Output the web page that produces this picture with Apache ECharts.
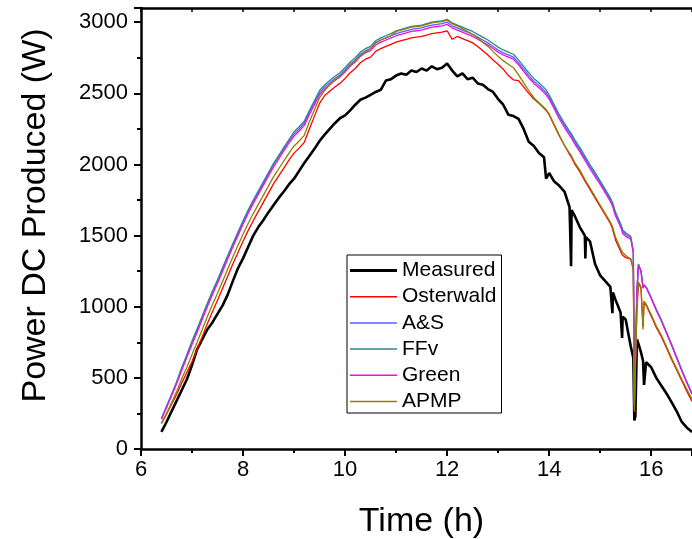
<!DOCTYPE html>
<html><head><meta charset="utf-8">
<script src="https://cdn.jsdelivr.net/npm/echarts@6/dist/echarts.min.js"></script>
<style>html,body{margin:0;padding:0;background:#fff}#c{width:692px;height:539px}</style>
</head><body><div id="c"></div>
<script>
const times = [
6.4,6.5,6.6,6.7,6.8,6.9,
7.0,7.1,7.2,7.3,7.4,7.5,7.6,7.7,7.8,7.9,
8.0,8.1,8.2,8.3,8.4,8.5,8.6,8.7,8.8,8.9,
9.0,9.1,9.2,9.3,9.4,9.5,9.6,9.7,9.8,9.9,
10.0,10.1,10.2,10.3,10.4,10.5,10.6,10.7,10.8,10.9,
11.0,11.1,11.2,11.3,11.4,11.5,11.6,11.7,11.8,11.9,
12.0,12.1,12.2,12.3,12.4,12.5,12.6,12.7,12.8,12.9,
13.0,13.1,13.2,13.3,13.4,13.5,13.6,13.7,13.8,13.9,13.94,
14.0,14.1,14.2,14.3,14.4,14.42,14.43,14.44,14.5,14.6,14.7,14.71,14.72,14.8,14.9,
15.0,15.1,15.2,15.24,15.25,15.3,15.4,15.43,15.44,15.5,15.6,15.65,15.67,15.69,15.72,15.75,15.8,15.84,15.86,15.9,
16.0,16.1,16.2,16.3,16.4,16.5,16.6,16.7,16.8];

const measured = [
120,190,265,340,415,490,
590,700,770,840,890,950,1010,1085,1180,1270,
1340,1420,1500,1560,1610,1665,1715,1765,1810,1860,
1900,1955,2010,2060,2110,2165,2210,2250,2290,2325,
2345,2380,2420,2455,2470,2490,2510,2525,2590,2600,
2625,2640,2630,2660,2650,2675,2660,2690,2670,2680,
2710,2660,2620,2640,2600,2610,2570,2560,2530,2510,
2460,2420,2350,2340,2320,2250,2160,2130,2080,2050,1900,
1940,1880,1850,1810,1700,1690,1285,1680,1640,1560,1500,1340,1490,1460,1300,
1220,1180,1140,955,1100,1050,960,780,930,910,720,640,200,230,770,740,680,620,450,610,
575,500,445,390,330,265,190,150,120];

const osterwald = [
180,245,315,385,465,540,
615,700,790,880,965,1045,1130,1215,1300,1380,
1460,1535,1605,1670,1735,1800,1865,1920,1975,2030,
2080,2115,2155,2250,2340,2430,2485,2515,2545,2570,
2605,2645,2675,2715,2740,2755,2795,2815,2830,2845,
2860,2870,2880,2890,2895,2900,2910,2920,2925,2930,
2940,2880,2900,2885,2870,2855,2830,2800,2770,2735,
2705,2670,2625,2595,2590,2545,2500,2460,2430,2395,2380,
2350,2275,2200,2135,2070,2060,2055,2050,2005,1950,1885,1880,1875,1825,1765,
1705,1645,1585,1550,1540,1470,1390,1365,1355,1345,1335,1260,260,250,980,1165,1130,860,1030,1010,
935,855,790,710,630,555,480,405,335];

const aands = [
212,295,380,468,565,655,
750,835,925,1015,1100,1180,1265,1350,1435,1515,
1595,1670,1740,1805,1870,1935,2000,2055,2110,2165,
2215,2250,2290,2365,2435,2505,2545,2575,2605,2630,
2665,2705,2735,2775,2800,2815,2855,2875,2890,2905,
2920,2930,2940,2950,2955,2960,2970,2980,2985,2990,
3000,2975,2960,2945,2930,2915,2895,2875,2855,2830,
2805,2785,2770,2755,2715,2670,2625,2585,2555,2520,2505,
2475,2405,2335,2275,2220,2210,2205,2200,2160,2105,2045,2040,2035,1985,1930,
1875,1815,1755,1725,1715,1655,1575,1545,1530,1510,1485,1385,310,300,1105,1295,1252,1132,1152,1137,
1062,977,902,817,732,642,552,467,387];

const ffv = [
215,300,385,475,575,665,
760,845,935,1025,1110,1190,1275,1360,1445,1525,
1605,1680,1750,1815,1880,1945,2010,2065,2120,2175,
2230,2265,2305,2380,2450,2520,2560,2590,2620,2645,
2680,2720,2750,2790,2815,2830,2870,2890,2905,2920,
2940,2950,2960,2970,2975,2980,2990,3000,3005,3010,
3020,2995,2980,2965,2950,2935,2915,2895,2875,2850,
2825,2805,2790,2775,2735,2690,2645,2605,2575,2540,2525,
2490,2420,2350,2290,2235,2225,2220,2215,2175,2120,2060,2055,2050,2000,1945,
1885,1825,1765,1735,1725,1665,1585,1555,1540,1520,1495,1390,320,310,1110,1300,1255,1135,1155,1140,
1065,980,905,820,735,645,555,470,390];

const green = [
210,290,375,460,555,645,
735,820,910,1000,1085,1165,1250,1335,1420,1500,
1580,1655,1725,1790,1855,1920,1985,2040,2095,2150,
2200,2235,2275,2350,2420,2490,2530,2560,2590,2615,
2650,2690,2720,2760,2785,2800,2840,2860,2875,2890,
2905,2915,2925,2935,2940,2945,2955,2965,2970,2975,
2985,2960,2945,2930,2915,2900,2880,2860,2840,2815,
2790,2770,2755,2740,2700,2655,2610,2570,2540,2505,2490,
2460,2390,2320,2260,2205,2195,2190,2185,2145,2090,2030,2025,2020,1970,1915,
1860,1800,1740,1710,1700,1640,1560,1530,1515,1495,1475,1380,300,290,1100,1290,1250,1130,1150,1135,
1060,975,900,815,730,640,550,465,385];

const apmp = [
180,250,325,405,495,575,
665,750,840,930,1015,1095,1180,1265,1350,1430,
1510,1585,1655,1720,1785,1850,1915,1970,2025,2080,
2130,2165,2205,2300,2385,2470,2520,2560,2595,2620,
2655,2695,2725,2765,2790,2815,2855,2875,2890,2905,
2935,2945,2955,2965,2970,2975,2985,2995,3000,3005,
3015,2990,2975,2955,2935,2915,2890,2860,2830,2795,
2760,2730,2705,2680,2630,2575,2520,2470,2435,2400,2385,
2355,2280,2205,2135,2080,2070,2065,2060,2015,1960,1895,1890,1885,1835,1775,
1715,1655,1595,1565,1555,1490,1410,1385,1375,1360,1335,1270,270,260,1000,1175,1140,840,1040,1020,
945,865,800,720,640,565,490,420,350];

const seriesNames = ['Measured','Osterwald','A&S','FFv','Green','APMP'];
const seriesValues = [measured, osterwald, aands, ffv, green, apmp];
const seriesColors = ['#000000','#ff0000','#5c5cff','#2a8a8a','#ea10ea','#8a8200'];
const seriesWidths = [2.6,1.3,1.3,1.3,1.3,1.3];
const legendIcons = ['path://M0,0H48V3.2H0Z','path://M0,0H48V1.5H0Z','path://M0,0H48V1.5H0Z',
                     'path://M0,0H48V1.5H0Z','path://M0,0H48V1.5H0Z','path://M0,0H48V1.5H0Z'];

const FONT = 'Liberation Sans, Arial, sans-serif';
const chart = echarts.init(document.getElementById('c'), null, {renderer:'canvas'});
const axisLineStyle = {color:'#000', width:2.5};

chart.setOption({
  animation:false,
  backgroundColor:'#fff',
  grid:{left:141, top:8, right:0, bottom:90, containLabel:false, outerBoundsMode:'none'},
  legend:{
    orient:'vertical', left:347, top:255,
    data:seriesNames.map((n,i)=>({name:n, icon:legendIcons[i]})),
    itemWidth:47, itemHeight:14, itemGap:5.2,
    padding:[5,5,1,3],
    borderColor:'#000', borderWidth:1, backgroundColor:'#fff',
    textStyle:{fontFamily:FONT, fontSize:21, color:'#000', lineHeight:20}
  },
  xAxis:[{
    type:'value', min:6, max:16.8, interval:2, position:'bottom',
    axisLine:{show:true, onZero:false, lineStyle:axisLineStyle},
    axisTick:{show:true, inside:false, length:7, lineStyle:{color:'#000', width:2}},
    minorTick:{show:true, splitNumber:2, length:4, lineStyle:{color:'#000', width:2}},
    axisLabel:{fontFamily:FONT, fontSize:22, color:'#000', margin:10, showMaxLabel:false},
    splitLine:{show:false},
    name:'Time (h)', nameLocation:'middle', nameGap:56,
    nameTextStyle:{fontFamily:FONT, fontSize:34, color:'#000', padding:[0,0,0,10]}
  },{
    type:'value', min:6, max:16.8, interval:1, position:'top',
    axisLine:{show:true, onZero:false, lineStyle:axisLineStyle},
    axisTick:{show:true, inside:true, length:4, lineStyle:{color:'#000', width:1.5}},
    axisLabel:{show:false}, splitLine:{show:false}
  }],
  yAxis:[{
    type:'value', min:0, max:3100, interval:500,
    axisLine:{show:true, onZero:false, lineStyle:axisLineStyle},
    axisTick:{show:true, inside:false, length:7, lineStyle:{color:'#000', width:2}},
    minorTick:{show:true, splitNumber:2, length:4, lineStyle:{color:'#000', width:2}},
    axisLabel:{fontFamily:FONT, fontSize:22, color:'#000', margin:13, showMaxLabel:false,
               formatter:(v)=>String(v)},
    splitLine:{show:false},
    name:'Power DC Produced (W)', nameLocation:'middle', nameGap:88, nameRotate:90,
    nameTextStyle:{fontFamily:FONT, fontSize:34, color:'#000', padding:[0,0,0,26]}
  }],
  series: seriesNames.map((n,i)=>({
    name:n, type:'line', xAxisIndex:0, yAxisIndex:0,
    data: times.map((t,j)=>[t, seriesValues[i][j]]),
    symbol:'none', showSymbol:false,
    lineStyle:{color:seriesColors[i], width:seriesWidths[i]},
    itemStyle:{color:seriesColors[i]},
    z: 2 + i
  }))
});
</script></body></html>
